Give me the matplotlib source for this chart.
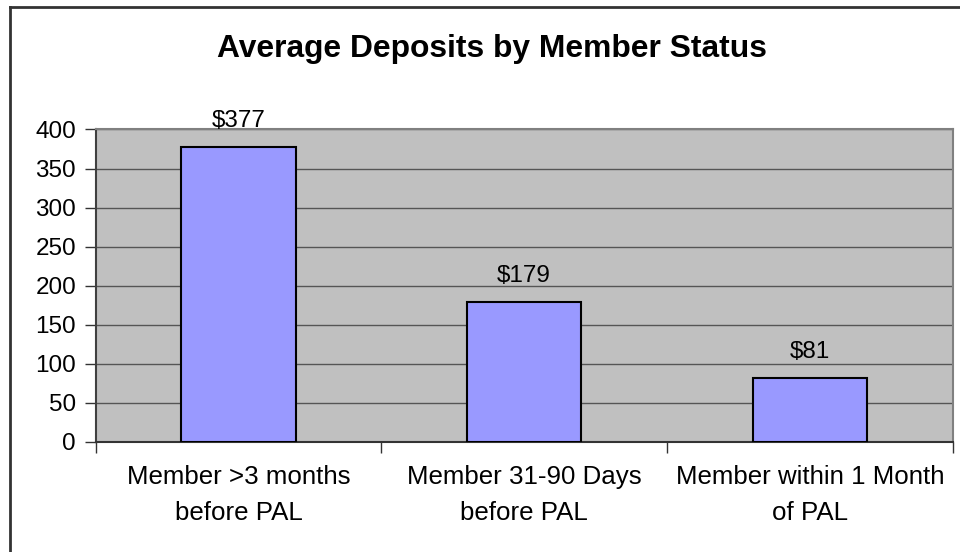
import numpy as np
import matplotlib
matplotlib.use('Agg')
import matplotlib.pyplot as plt
from matplotlib.lines import Line2D

plt.rcParams['font.family'] = ['Liberation Sans', 'DejaVu Sans']

# chart data
categories = ['Member >3 months\nbefore PAL', 'Member 31-90 Days\nbefore PAL', 'Member within 1 Month\nof PAL']
deposits = [377, 179, 81]
barLabels = ['$377', '$179', '$81']
yTicks = [0, 50, 100, 150, 200, 250, 300, 350, 400]

fig = plt.figure(figsize=(9.6, 5.52), dpi=100)
ax = fig.add_axes([0.0995, 0.1998, 0.8929, 0.5656])
ax.set_facecolor('#C0C0C0')

x = np.arange(len(categories))
ax.bar(x, deposits, width=0.4, color='#9999FF', edgecolor='black', linewidth=1.5, zorder=3)

for xi, val, lab in zip(x, deposits, barLabels):
    ax.annotate(lab, (xi, val), xytext=(0, 14.5), textcoords='offset points',
                ha='center', va='baseline', fontsize=17.5, color='black')

ax.set_xlim(-0.5, len(categories) - 0.5)
ax.set_ylim(0, 400)
ax.set_yticks(yTicks)
ax.set_yticklabels([str(t) for t in yTicks], fontsize=17.5)
ax.yaxis.grid(True, color='#555555', linewidth=1, zorder=1)
ax.set_axisbelow(True)

# category ticks between the groups, labels at centres
ax.set_xticks(np.arange(-0.5, len(categories), 1.0))
ax.set_xticklabels([])
ax.set_xticks(x, minor=True)
ax.set_xticklabels(categories, minor=True, fontsize=18.6, linespacing=1.62)
ax.tick_params(axis='x', which='minor', length=0, pad=17)
ax.tick_params(axis='x', which='major', length=8, width=1, color='#333333', direction='out')
ax.tick_params(axis='y', length=8, width=1, color='#333333', direction='out', pad=6)

ax.spines['left'].set_color('#404040')
ax.spines['bottom'].set_color('#333333')
ax.spines['top'].set_color('#808080')
ax.spines['right'].set_color('#808080')
for s in ax.spines.values():
    s.set_linewidth(1.5)

fig.text(492 / 960, 1 - 57.5 / 552, 'Average Deposits by Member Status', ha='center', va='baseline',
         fontsize=22.9, fontweight='bold')

# outer chart border (only left and top visible)
fig.add_artist(Line2D([10 / 960, 10 / 960], [0, 1 - 7 / 552], color='#333333', linewidth=2))
fig.add_artist(Line2D([10 / 960, 1], [1 - 7 / 552, 1 - 7 / 552], color='#333333', linewidth=2))

fig.savefig('out.png', dpi=100)
